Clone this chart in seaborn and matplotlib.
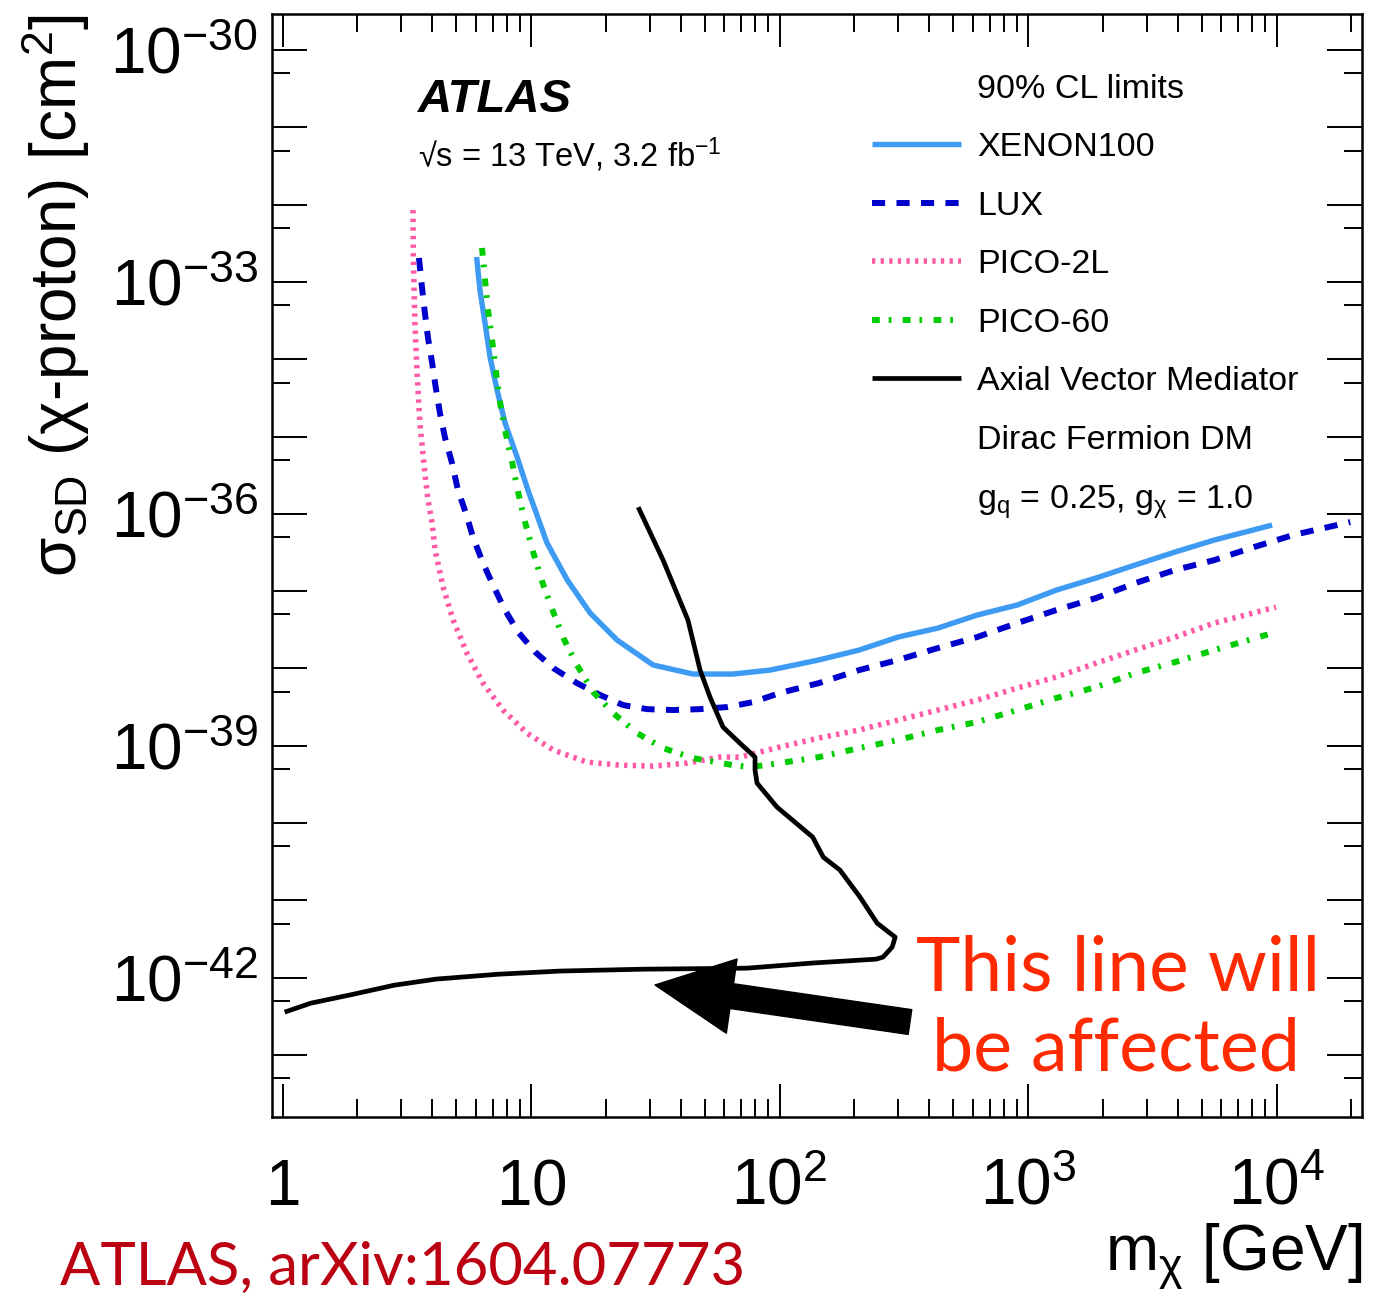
import numpy as np
import pandas as pd
import matplotlib
matplotlib.use("Agg")
import matplotlib.pyplot as plt
from matplotlib import ticker
from matplotlib.lines import Line2D
import seaborn as sns

# ---------------- data ----------------
xenon_mass = [6.04, 6.23, 6.53, 6.84, 7.30, 7.86, 8.79, 9.72, 11.6, 14.0, 17.3, 22.2,
              31.0, 44.9, 65.0, 91.5, 100, 144, 209, 300, 434, 624, 903, 1297, 1878,
              2698, 3908, 5610, 9600]
xenon_sigma = [2.10e-33, 7.85e-34, 2.94e-34, 1.07e-34, 4.00e-35, 1.50e-35, 5.43e-36,
               2.03e-36, 4.19e-37, 1.39e-37, 5.21e-38, 2.33e-38, 1.11e-38, 8.47e-39,
               8.47e-39, 9.53e-39, 1.01e-38, 1.29e-38, 1.73e-38, 2.55e-38, 3.33e-38,
               4.91e-38, 6.61e-38, 1.03e-37, 1.48e-37, 2.18e-37, 3.21e-37, 4.58e-37,
               7.16e-37]

lux_mass = [3.54, 3.64, 3.74, 3.85, 4.00, 4.15, 4.30, 4.51, 4.81, 5.08, 5.47, 5.84,
            6.41, 7.03, 7.86, 8.87, 10.4, 12.3, 15.3, 19.0, 23.5, 29.3, 37.3, 47.9,
            61.5, 78.2, 100, 144, 209, 300, 434, 624, 903, 1297, 1878, 2698, 3908,
            5610, 8120, 11650, 19800]
lux_sigma = [2.04e-33, 8.6e-34, 3.96e-34, 1.88e-34, 8.93e-35, 4.00e-35, 2.01e-35,
             9.57e-36, 4.54e-36, 2.03e-36, 1.02e-36, 5.01e-37, 2.31e-37, 1.20e-37,
             5.69e-38, 2.96e-38, 1.63e-38, 1.01e-38, 6.47e-39, 4.53e-39, 3.36e-39,
             2.98e-39, 2.90e-39, 2.98e-39, 3.17e-39, 3.67e-39, 4.81e-39, 6.47e-39,
             9.53e-39, 1.29e-38, 1.84e-38, 2.55e-38, 3.86e-38, 5.69e-38, 8.14e-38,
             1.27e-37, 1.88e-37, 2.52e-37, 3.72e-37, 5.32e-37, 7.83e-37]

pico2l_mass = [3.35, 3.36, 3.41, 3.48, 3.57, 3.74, 3.85, 4.00, 4.11, 4.43, 4.86, 5.52,
               6.41, 7.71, 9.63, 12.3, 16.8, 22.8, 31.0, 42.4, 57.6, 69.3, 100, 144,
               209, 300, 434, 624, 903, 1297, 1878, 2698, 3908, 5610, 9950]
pico2l_sigma = [8.5e-33, 2.04e-33, 2.94e-34, 6.63e-35, 1.50e-35, 3.37e-36, 1.51e-36,
                7.60e-37, 3.40e-37, 1.13e-37, 4.23e-38, 1.58e-38, 6.47e-39, 2.90e-39,
                1.46e-39, 8.80e-40, 6.15e-40, 5.62e-40, 5.46e-40, 5.97e-40, 7.14e-40,
                7.14e-40, 9.62e-40, 1.26e-39, 1.60e-39, 2.15e-39, 2.90e-39, 3.90e-39,
                5.57e-39, 7.74e-39, 1.17e-38, 1.73e-38, 2.55e-38, 3.86e-38, 6.22e-38]

pico60_mass = [6.35, 6.53, 6.71, 6.97, 7.23, 7.50, 7.86, 8.39, 8.87, 9.46, 10.2, 11.1,
               12.2, 13.5, 15.3, 17.8, 21.4, 26.7, 34.0, 44.9, 65.0, 76.1, 100, 144,
               209, 300, 434, 624, 903, 1297, 1878, 2698, 3908, 5610, 9950]
pico60_sigma = [2.75e-33, 1.06e-33, 4.33e-34, 1.77e-34, 6.82e-35, 2.79e-35, 1.21e-35,
                4.68e-36, 1.91e-36, 7.83e-37, 3.21e-37, 1.31e-37, 5.69e-38, 2.47e-38,
                1.11e-38, 4.95e-39, 2.65e-39, 1.46e-39, 9.34e-40, 6.93e-40, 5.62e-40,
                5.30e-40, 5.97e-40, 7.14e-40, 9.34e-40, 1.19e-39, 1.60e-39, 2.03e-39,
                2.90e-39, 4.14e-39, 5.74e-39, 8.71e-39, 1.21e-38, 1.73e-38, 2.96e-38]

# ATLAS axial-vector mediator limit (path order)
axial_mass = [27.0, 34.0, 42.8, 47.9, 52.5, 59.2, 69.3, 79.7, 79.7, 81.2, 97.7, 136,
              150, 175, 211, 247, 292, 284, 261, 245, 136, 74.0, 28.2, 13.1, 7.36,
              4.15, 2.81, 1.92, 1.30, 1.02]
axial_sigma = [1.22e-36, 2.52e-37, 4.23e-38, 9.53e-39, 4.27e-39, 1.75e-39, 1.08e-39,
               7.14e-40, 4.85e-40, 3.29e-40, 1.61e-40, 6.59e-41, 3.63e-41, 2.47e-41,
               1.10e-41, 5.08e-42, 3.35e-42, 2.49e-42, 1.85e-42, 1.74e-42, 1.55e-42,
               1.33e-42, 1.29e-42, 1.22e-42, 1.11e-42, 9.6e-43, 8.0e-43, 6.1e-43,
               4.69e-43, 3.59e-43]

x_tick_values = [1, 10, 100, 1000, 10000]
x_tick_labels = [r"$1$", r"$10$", r"$10^{2}$", r"$10^{3}$", r"$10^{4}$"]
y_tick_exponents = list(range(-30, -44, -1))
y_labelled_exponents = [-30, -33, -36, -39, -42]

legend_labels = ["90% CL limits", "XENON100", "LUX", "PICO-2L", "PICO-60",
                 "Axial Vector Mediator", "Dirac Fermion DM",
                 r"g$_{\rm q}$ = 0.25, g$_{\rm χ}$ = 1.0"]

# ---------------- style ----------------
sns.set_theme(style="ticks")
plt.rcParams["font.family"] = ["Liberation Sans", "DejaVu Sans"]
plt.rcParams["mathtext.fontset"] = "custom"
plt.rcParams["mathtext.rm"] = "Liberation Sans"
plt.rcParams["mathtext.it"] = "Liberation Sans:italic"
plt.rcParams["mathtext.bf"] = "Liberation Sans:bold"
plt.rcParams["text.color"] = "black"
plt.rcParams["axes.labelcolor"] = "black"
plt.rcParams["axes.edgecolor"] = "black"
plt.rcParams["xtick.color"] = "black"
plt.rcParams["ytick.color"] = "black"

fig = plt.figure(figsize=(13.89, 12.97), dpi=100)
ax = fig.add_axes([0.19582, 0.13878, 0.78474, 0.85042])
ax.set_xscale("log")
ax.set_yscale("log")

styles = {
    "XENON100": dict(color="#3d9bf3", lw=3.9, ls="-"),
    "LUX": dict(color="#0000cc", lw=4.3, ls=(0, (2.2, 1.9))),
    "PICO-2L": dict(color="#ff5aa5", lw=4.0, ls=(0, (0.6, 0.95))),
    "PICO-60": dict(color="#00cc00", lw=4.3, ls=(0, (1.3, 1.5, 0.45, 1.9))),
    "Axial Vector Mediator": dict(color="black", lw=3.4, ls="-"),
}
series = [
    ("XENON100", xenon_mass, xenon_sigma),
    ("LUX", lux_mass, lux_sigma),
    ("PICO-2L", pico2l_mass, pico2l_sigma),
    ("PICO-60", pico60_mass, pico60_sigma),
    ("Axial Vector Mediator", axial_mass, axial_sigma),
]
for name, m, s in series:
    df = pd.DataFrame({"mass": m, "sigma": s})
    st = styles[name]
    sns.lineplot(data=df, x="mass", y="sigma", ax=ax, color=st["color"],
                 linewidth=st["lw"], estimator=None, sort=False, legend=False)
    ln = ax.lines[-1]
    ln.set_linestyle(st["ls"])
    ln.set_solid_capstyle("butt")
    ln.set_solid_joinstyle("round")

ax.set_xlim(0.907, 22080)
ax.set_ylim(1.58e-44, 2.92e-30)

# ticks
ax.xaxis.set_major_locator(ticker.FixedLocator(x_tick_values))
ax.xaxis.set_major_formatter(ticker.FixedFormatter(x_tick_labels))
ax.xaxis.set_minor_locator(ticker.LogLocator(base=10, subs=np.arange(2, 10), numticks=50))
ax.xaxis.set_minor_formatter(ticker.NullFormatter())

y_major = [10.0 ** e for e in y_tick_exponents]
y_labels = [(r"$10^{%d}$" % e if e in y_labelled_exponents else "") for e in y_tick_exponents]
ax.yaxis.set_major_locator(ticker.FixedLocator(y_major))
ax.yaxis.set_major_formatter(ticker.FixedFormatter(y_labels))
ax.yaxis.set_minor_locator(ticker.FixedLocator([5.0 * 10.0 ** (e - 1) for e in y_tick_exponents]))
ax.yaxis.set_minor_formatter(ticker.NullFormatter())

ax.tick_params(axis="both", which="both", direction="in", top=True, right=True,
               colors="black", width=1.4)
ax.tick_params(axis="x", which="major", length=24, pad=63, labelsize=46)
ax.tick_params(axis="x", which="minor", length=13)
ax.tick_params(axis="y", which="major", length=25, pad=10, labelsize=46)
ax.tick_params(axis="y", which="minor", length=13)
for lab in ax.get_xticklabels():
    lab.set_verticalalignment("baseline")
for sp in ax.spines.values():
    sp.set_linewidth(1.8)
    sp.set_color("black")

# axis labels
ax.set_ylabel(r"σ$_{\rm SD}$ (χ-proton) [cm$^{2}$]", fontsize=46, loc="top", color="black")
ax.yaxis.set_label_coords(-0.165, 1.0)
ax.set_xlabel(r"m$_{\rm χ}$ [GeV]", fontsize=46, loc="right", color="black")
ax.xaxis.set_label_coords(1.0, -0.095)

# texts
ax.text(0.134, 0.911, "ATLAS", transform=ax.transAxes, fontsize=34,
        fontweight="bold", fontstyle="italic", va="baseline")
ax.text(0.134, 0.862, r"√s = 13 TeV, 3.2 fb$^{-1}$", transform=ax.transAxes,
        fontsize=23.5, va="baseline")

# legend
handles = [Line2D([], [], color="none")]
for name, _, _ in series:
    st = styles[name]
    h = Line2D([], [], color=st["color"], linewidth=st["lw"], linestyle=st["ls"])
    h.set_solid_capstyle("butt")
    handles.append(h)
handles += [Line2D([], [], color="none"), Line2D([], [], color="none")]
ax.legend(handles, legend_labels, loc="upper left", bbox_to_anchor=(0.5505, 0.946),
          frameon=False, fontsize=24.5, handlelength=2.6, handletextpad=0.48,
          labelspacing=0.81, borderpad=0, borderaxespad=0)

# annotation arrow and red text
ax.annotate("", xy=(0.3514, 0.1197), xytext=(0.5853, 0.0861),
            xycoords="axes fraction", textcoords="axes fraction",
            arrowprops=dict(arrowstyle="simple,head_length=3.1,head_width=3.0,tail_width=1.0",
                            mutation_scale=18, color="black", shrinkA=0, shrinkB=0))
ax.text(0.776, 0.1151, "This line will", transform=ax.transAxes, fontsize=54,
        color="#ff2a00", ha="center", va="baseline", family=["Lato", "DejaVu Sans"])
ax.text(0.774, 0.0426, "be affected", transform=ax.transAxes, fontsize=53,
        color="#ff2a00", ha="center", va="baseline", family=["Lato", "DejaVu Sans"])

fig.text(0.043, 0.009, "ATLAS, arXiv:1604.07773", fontsize=43, color="#bb0011",
         ha="left", va="baseline", family=["Lato", "DejaVu Sans"])

fig.savefig("out.png", dpi=100, facecolor="white")
